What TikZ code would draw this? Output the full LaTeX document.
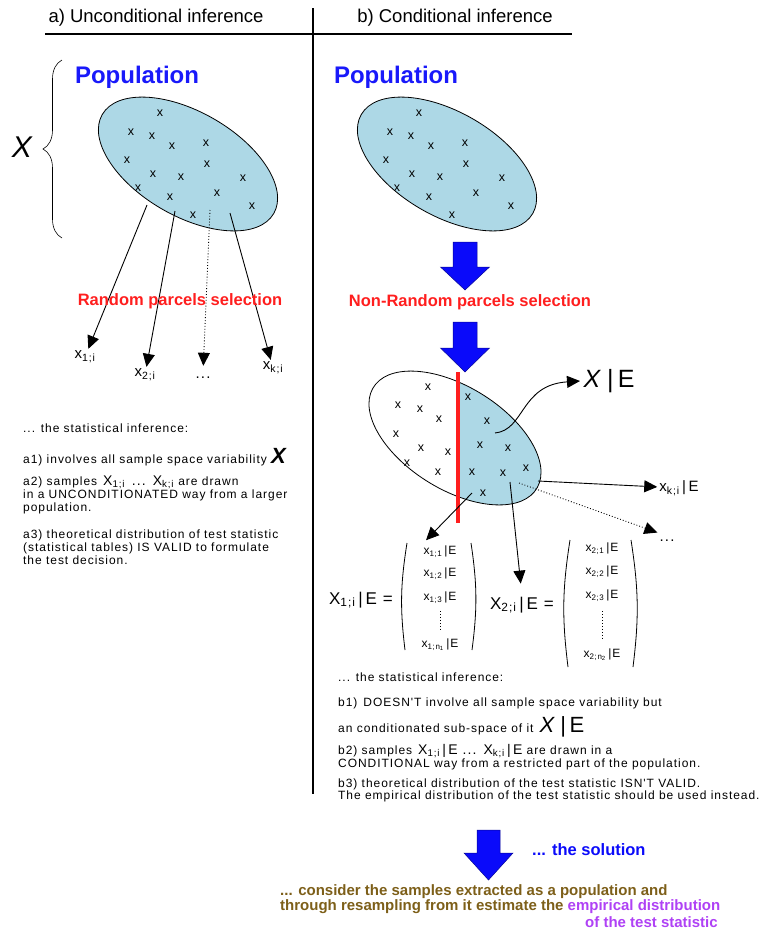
\documentclass[tikz,border=0pt]{standalone}
\usepackage{fontspec}
\setmainfont{Liberation Sans}
\newfontfamily\widefont[LetterSpace=8]{Liberation Sans}
\usetikzlibrary{arrows.meta,decorations.pathreplacing}
\definecolor{popblue}{RGB}{173,216,230}
\definecolor{popttl}{RGB}{25,25,250}
\definecolor{selred}{RGB}{255,30,30}
\definecolor{fatblue}{RGB}{10,10,250}
\definecolor{solbrown}{RGB}{125,95,25}
\definecolor{empviolet}{RGB}{175,65,245}
\begin{document}
\begin{tikzpicture}[x=1pt,y=-1pt]
  \tikzset{
    egg/.pic={\path[pic actions,rotate=-30] (0,0) ellipse [x radius=99pt,y radius=52pt];},
    cr/.style={font=\fontsize{12.5}{12.5}\selectfont,inner sep=0pt},
    hd/.style={font=\fontsize{18.5}{18.5}\selectfont},
    pp/.style={font=\fontsize{24}{24}\selectfont\bfseries,text=popttl},
    sel/.style={font=\fontsize{16.5}{16.5}\selectfont\bfseries,text=selred},
    smp/.style={font=\widefont\fontsize{15}{15}\selectfont,inner sep=2pt},
    lab/.style={font=\widefont\fontsize{17}{17}\selectfont,inner sep=1pt},
    ent/.style={inner sep=1.5pt,font=\widefont\fontsize{12}{12}\selectfont},
    par/.style={line width=0.8pt},
    ar/.style={-{Triangle[length=13pt,width=12pt]},line width=0.9pt},
    fat/.style={fill=fatblue,draw=fatblue!60!black,line width=0.5pt},
    txt/.style={font=\widefont\fontsize{12}{13}\selectfont,anchor=west,align=left,inner sep=0pt},
    sol/.style={font=\fontsize{15}{15}\selectfont\bfseries,anchor=west,align=left,inner sep=0pt},
  }
  \useasboundingbox (0,0) rectangle (771,929);
  % headings and dividing lines
  \node[hd] (ha) at (156,18) {a) Unconditional inference};
  \node[hd] (hb) at (455,18) {b) Conditional inference};
  \draw[line width=1.6pt] (45,34) -- (572,34);
  \draw[line width=1.6pt] (313,8) -- (313,794);

  % a) unconditional
  \node[pp] (pa) at (137,77) {Population};
  \draw[decorate,decoration={brace,amplitude=19pt},line width=0.6pt] (62,238) -- (62,60);
  \node[font=\fontsize{30}{30}\selectfont\itshape] (bx) at (22,147) {X};
  \pic[draw,fill=popblue,line width=0.8pt] (ea) at (188,164) {egg};
  \pic[draw,fill=popblue,line width=0.8pt] (eb) at (447,164) {egg};
  \foreach \cx/\cy [count=\k] in {160/113,131/132,152/136,172/146,206/143,127/160,207/164,
      153/174,181/177,243/178,138/188,170/197,217/193,252/206,193/215}
  {
    \node[cr] (ca\k) at (\cx,\cy) {x};
    \node[cr] (cb\k) at (\cx+259,\cy) {x};
  }
  \coordinate (s1) at (147,205);
  \coordinate (s2) at (175,211);
  \coordinate (s3) at (210,210);
  \coordinate (s4) at (230,213);
  \node[smp] (x1) at (85,357) {x\textsubscript{1;i}};
  \node[smp] (x2) at (145,375) {x\textsubscript{2;i}};
  \node[smp,text height=10pt] (x3) at (203,373) {...};
  \node[smp] (x4) at (273,368) {x\textsubscript{k;i}};
  \draw[ar] (s1) -- (x1);
  \draw[ar] (s2) -- (x2);
  \draw[ar,dotted] (s3) -- (x3);
  \draw[ar] (s4) -- (x4);
  \node[sel] (rs) at (180,301) {Random parcels selection};

  \node[txt] (ia) at (23,428) {... the statistical inference:};
  \node[txt] (a1) at (23,457) {a1) involves all sample space variability
    {\fontsize{22}{22}\selectfont\bfseries\itshape X}};
  \node[txt] (a2) at (23,495) {a2) samples\enspace
    {\fontsize{14}{14}\selectfont X\textsubscript{1;i}\enspace ...\enspace X\textsubscript{k;i}} are drawn\\
    in a UNCONDITIONATED way from a larger\\ population.};
  \node[txt] (a3) at (23,547) {a3) theoretical distribution of test statistic\\
    (statistical tables) IS VALID to formulate\\ the test decision.};

  % b) conditional
  \node[pp] (pb) at (396,77) {Population};
  \draw[fat] (453,242) -- ++(24,0) -- ++(0,25) -- ++(12.5,0) -- ++(-24.5,23) -- ++(-24.5,-23) -- ++(12.5,0) -- cycle;
  \node[sel] (nrs) at (470,302) {Non-Random parcels selection};
  \draw[fat] (453,322) -- ++(24,0) -- ++(0,26) -- ++(12.5,0) -- ++(-24.5,24) -- ++(-24.5,-24) -- ++(12.5,0) -- cycle;

  \begin{scope}
    \clip (458,300) rectangle (700,560);
    \pic[fill=popblue,xscale=0.96] (ecf) at (455,438) {egg};
  \end{scope}
  \pic[draw,xscale=0.96,line width=0.8pt] (ec) at (455,438) {egg};
  \foreach \cx/\cy [count=\k] in {428/387,398/405,420/409,439/419,396/434,421/448,448/452,407/463,438/472,
      468/397,487/421,480/445,508/448,472/472,503/473,526/468,483/493}
    \node[cr] (cc\k) at (\cx,\cy) {x};
  \draw[selred,line width=3.5pt] (458,372) -- (458,523);

  \coordinate (s5) at (495,433);
  \coordinate (s6) at (538,481);
  \coordinate (s7) at (519,483);
  \coordinate (s8) at (472,493);
  \coordinate (s9) at (510,482);
  \node[font=\widefont\fontsize{25}{25}\selectfont] (xe) at (609,381) {\textit{X}\,|\,E};
  \node[smp] (xk) at (679,488) {x\textsubscript{k;i}\,|\,E};
  \node[smp,text height=10pt] (xd) at (667,536) {...};
  \draw[ar] (s5) .. controls (525,430) and (520,385) .. (xe.west);
  \draw[ar] (s6) -- (xk);
  \draw[ar,dotted] (s7) -- (xd);

  % the two samples as column vectors
  \node[lab] (l1) at (361,600) {X\textsubscript{1;i}\,|\,E =};
  \foreach \ry [count=\k] in {552,574,598}
    \node[ent] (ma\k) at (440,\ry) {x\textsubscript{1;\k}\,|E};
  \node[ent] (man) at (440,645) {x\textsubscript{1;n\textsubscript{1}}\,|E};
  \draw[dotted,line width=0.9pt,shorten <=6pt,shorten >=6pt] (ma3) -- (man);
  \coordinate (pl1) at (407,543); \coordinate (pl2) at (405,650);
  \coordinate (pr1) at (471,543); \coordinate (pr2) at (472,650);
  \draw[par] (pl1) to[bend right=8] (pl2);
  \draw[par] (pr1) to[bend left=8] (pr2);

  \node[lab] (l2) at (522,605) {X\textsubscript{2;i}\,|\,E =};
  \foreach \ry [count=\k] in {549,572,596}
    \node[ent] (mb\k) at (602,\ry) {x\textsubscript{2;\k}\,|E};
  \node[ent] (mbn) at (602,655) {x\textsubscript{2;n\textsubscript{2}}\,|E};
  \draw[dotted,line width=0.9pt,shorten <=8pt,shorten >=8pt] (mb3) -- (mbn);
  \coordinate (ql1) at (570,540); \coordinate (ql2) at (568,667);
  \coordinate (qr1) at (631,540); \coordinate (qr2) at (633,667);
  \draw[par] (ql1) to[bend right=8] (ql2);
  \draw[par] (qr1) to[bend left=8] (qr2);

  \draw[ar,shorten >=6pt] (s8) -- (ma1.north west);
  \draw[ar,shorten >=12pt] (s9) -- (l2.north);

  \node[txt] (ib) at (338,677) {... the statistical inference:};
  \node[txt] (b1) at (338,703) {b1)\enspace DOESN'T involve all sample space variability but};
  \node[txt] (b1b) at (338,727) {an conditionated sub-space of it\enspace
    {\fontsize{22}{22}\selectfont\textit{X}\,|\,E}};
  \node[txt,font=\widefont\fontsize{12}{11}\selectfont] (b2) at (338,757) {b2) samples\enspace
    {\fontsize{14}{14}\selectfont X\textsubscript{1;i}\,|\,E ...\enspace X\textsubscript{k;i}\,|\,E} are drawn in a\\
    CONDITIONAL way from a restricted part of the population.};
  \node[txt,font=\widefont\fontsize{12}{11}\selectfont] (b3) at (338,790) {b3) theoretical distribution of the test statistic ISN'T VALID.\\
    The empirical distribution of the test statistic should be used instead.};

  % the solution
  \draw[fat] (477,830) -- ++(23,0) -- ++(0,23) -- ++(13,0) -- ++(-24.5,27) -- ++(-24.5,-27) -- ++(13,0) -- cycle;
  \node[sol,text=fatblue,font=\fontsize{16.5}{16.5}\selectfont\bfseries] (sl) at (532,850) {... the solution};
  \node[sol,text=solbrown] (cs) at (280,899) {... consider the samples extracted as a population and\\
    through resampling from it estimate the \textcolor{empviolet}{empirical distribution}};
  \node[sol,text=empviolet] (ts) at (585,922) {of the test statistic};
\end{tikzpicture}
\end{document}
